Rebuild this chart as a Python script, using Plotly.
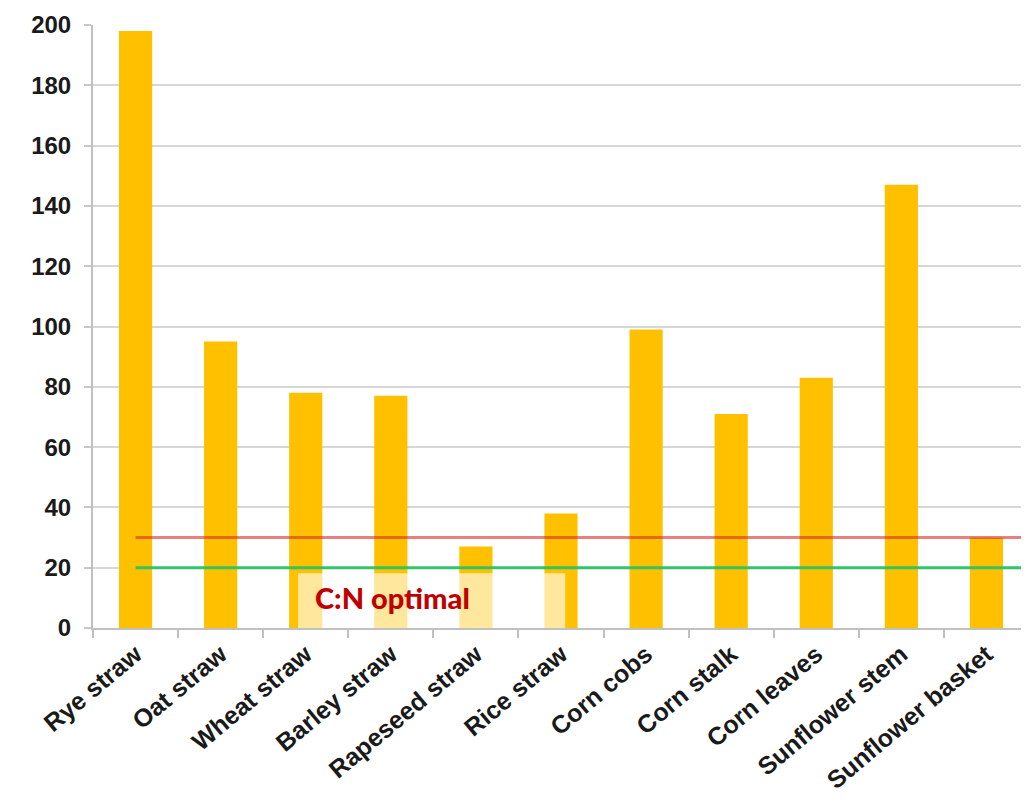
import plotly.graph_objects as go

categories = ["Rye straw", "Oat straw", "Wheat straw", "Barley straw", "Rapeseed straw",
              "Rice straw", "Corn cobs", "Corn stalk", "Corn leaves", "Sunflower stem",
              "Sunflower basket"]
cn_ratio = [198, 95, 78, 77, 27, 38, 99, 71, 83, 147, 30]
upper_optimal = 30
lower_optimal = 20
y_ticks = [0, 20, 40, 60, 80, 100, 120, 140, 160, 180, 200]

fig = go.Figure()
fig.add_trace(go.Bar(x=categories, y=cn_ratio, marker=dict(color="#FFC000", line=dict(width=0)),
                     width=0.39, showlegend=False))

n = len(categories)
fig.add_shape(type="line", xref="x", yref="y", x0=0, x1=n - 0.5, y0=upper_optimal, y1=upper_optimal,
              line=dict(color="rgba(215,45,45,0.6)", width=3), layer="above")
fig.add_shape(type="line", xref="x", yref="y", x0=0, x1=n - 0.5, y0=lower_optimal, y1=lower_optimal,
              line=dict(color="rgba(40,195,100,0.95)", width=3), layer="above")
fig.add_shape(type="rect", xref="x", yref="y", x0=1.91, x1=5.05, y0=0, y1=18.2,
              fillcolor="rgba(255,255,255,0.62)", line=dict(width=0), layer="above")
fig.add_annotation(x=3.02, y=10.2, xref="x", yref="y", text="C:N optimal", showarrow=False,
                   font=dict(family="Lato, Open Sans, sans-serif", size=29, color="#C00000", weight=900))

xfont = dict(family="Liberation Sans, Arial, sans-serif", size=25, color="#1a1a1a", weight="bold")
yfont = dict(family="Liberation Sans, Arial, sans-serif", size=24, color="#1a1a1a", weight="bold")
fig.update_layout(
    width=1021, height=797,
    margin=dict(l=85, r=0, t=17, b=177),
    plot_bgcolor="white", paper_bgcolor="white",
)
fig.update_xaxes(tickangle=-40, tickfont=xfont, showline=True, linecolor="#c0c0c0", linewidth=2,
                 ticks="outside", ticklen=8, tickcolor="#c0c0c0", tickwidth=2, tickson="boundaries",
                 range=[-0.5, n - 0.5], showgrid=False, automargin=False)
fig.update_yaxes(range=[0, 200], tickvals=y_ticks, tickfont=yfont, showline=True, linecolor="#c0c0c0",
                 linewidth=2, ticks="outside", ticklen=7, tickcolor="#c8c8c8", tickwidth=2,
                 ticklabelstandoff=8,
                 showgrid=True, gridcolor="#d6d6d6", gridwidth=2, zeroline=False, automargin=False)

fig.write_html("out.html")
